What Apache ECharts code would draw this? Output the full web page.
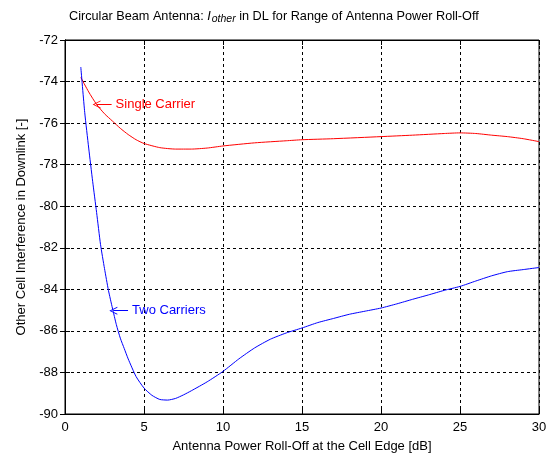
<!DOCTYPE html>
<html>
<head>
<meta charset="utf-8">
<script src="https://cdn.jsdelivr.net/npm/echarts@6/dist/echarts.min.js"></script>
<style>
  html, body { margin: 0; padding: 0; background: #ffffff; }
  #chart { width: 553px; height: 455px; }
</style>
</head>
<body>
<div id="chart"></div>
<script>
// Antenna power roll-off at the cell edge [dB]
const singleX = [1, 1.5, 2, 2.5, 3, 3.5, 4, 4.5, 5, 6, 7, 8, 9, 10, 12, 14, 15, 17, 20, 22, 24, 25, 26, 27, 28, 29, 30];
// Other cell interference, single carrier
const singleY = [-73.8, -74.5, -75.1, -75.55, -75.9, -76.25, -76.55, -76.8, -76.98, -77.18, -77.25, -77.25, -77.2, -77.1, -76.95, -76.85, -76.8, -76.75, -76.65, -76.58, -76.5, -76.47, -76.5, -76.58, -76.65, -76.75, -76.89];

const twoX = [1, 1.25, 1.5, 1.75, 2, 2.25, 2.5, 2.75, 3, 3.25, 3.5, 3.75, 4, 4.5, 5, 5.5, 6, 6.5, 7, 7.5, 8, 9, 10, 11, 12, 13, 14, 15, 16, 17, 18, 19, 20, 21, 22, 23, 24, 25, 26, 27, 28, 29, 30];
// Other cell interference, two carriers
const twoY = [-73.3, -75.5, -77.2, -78.8, -80.3, -81.85, -83.0, -84.05, -84.9, -85.7, -86.35, -86.85, -87.35, -88.2, -88.75, -89.1, -89.3, -89.33, -89.25, -89.08, -88.88, -88.45, -87.95, -87.35, -86.82, -86.4, -86.1, -85.86, -85.6, -85.4, -85.2, -85.05, -84.9, -84.7, -84.48, -84.27, -84.05, -83.86, -83.6, -83.35, -83.15, -83.05, -82.95];

const xTicks = [0, 5, 10, 15, 20, 25, 30];
const yTicks = [-90, -88, -86, -84, -82, -80, -78, -76, -74, -72];

// Curve labels: arrow tip on the curve, text to its right
const singleNote = { text: 'Single Carrier', x: 2.0, y: -75.1, tailX: 2.95 };
const twoNote = { text: 'Two Carriers', x: 3.06, y: -85.03, tailX: 3.99 };

const FONT = 'Liberation Sans, Arial, sans-serif';
const FS = 13;
const chevron = 'path://M5,0 L10,10 L8.8,10 L5,2.2 L1.2,10 L0,10 Z';

function zip(xs, ys) { return xs.map((x, i) => [x, ys[i]]); }

function noteLine(note, color) {
  return {
    silent: true,
    symbol: [chevron, 'none'],
    symbolSize: [8, 8],
    lineStyle: { color: color, width: 1, type: 'solid' },
    label: {
      show: true, position: 'end', distance: 4,
      formatter: note.text, color: color, fontFamily: FONT, fontSize: FS
    },
    emphasis: { disabled: true },
    animation: false,
    data: [[{ coord: [note.x, note.y] }, { coord: [note.tailX, note.y] }]]
  };
}

const chart = echarts.init(document.getElementById('chart'), null, { renderer: 'canvas' });

const gridDash = { color: '#000000', width: 1, type: [3, 3] };
const tick = { show: true, inside: true, length: 5, lineStyle: { color: '#000000' } };
const axisLine = { show: true, lineStyle: { color: '#000000', width: 1 } };

chart.setOption({
  backgroundColor: '#ffffff',
  animation: false,
  title: {
    text: '{n|Circular Beam Antenna: }{i|I}{s|other}{n| in DL for Range of Antenna Power Roll-Off}',
    left: 69, top: 7, padding: 0,
    textStyle: {
      fontWeight: 'normal',
      rich: {
        n: { fontFamily: FONT, fontSize: 12.7, fontWeight: 'normal', color: '#000000' },
        i: { fontFamily: FONT, fontSize: 12.7, fontWeight: 'normal', fontStyle: 'italic', color: '#000000' },
        s: { fontFamily: FONT, fontSize: 10.5, fontWeight: 'normal', fontStyle: 'italic', color: '#000000', padding: [7, 0, 0, 1] }
      }
    }
  },
  grid: {
    left: 65, right: 14, top: 40, bottom: 41, outerBoundsMode: 'none',
    show: true, borderColor: '#000000', borderWidth: 1
  },
  xAxis: [{
    type: 'value', min: 0, max: 30, interval: 5,
    name: 'Antenna Power Roll-Off at the Cell Edge [dB]',
    nameLocation: 'middle', nameGap: 26,
    nameTextStyle: { fontFamily: FONT, fontSize: FS, color: '#000000' },
    axisLine: axisLine, axisTick: tick,
    axisLabel: {
      color: '#000000', fontFamily: FONT, fontSize: FS, margin: 7,
      customValues: xTicks, formatter: v => String(v)
    },
    splitLine: { show: true, lineStyle: gridDash }
  }, {
    type: 'value', min: 0, max: 30, interval: 5, position: 'top',
    axisLine: axisLine, axisTick: tick,
    axisLabel: { show: false }, splitLine: { show: false }
  }],
  yAxis: [{
    type: 'value', min: -90, max: -72, interval: 2,
    name: 'Other Cell Interference in Downlink [-]',
    nameLocation: 'middle', nameGap: 34,
    nameTextStyle: { fontFamily: FONT, fontSize: FS, color: '#000000' },
    axisLine: axisLine, axisTick: tick,
    axisLabel: {
      color: '#000000', fontFamily: FONT, fontSize: FS, margin: 7,
      customValues: yTicks, formatter: v => String(v)
    },
    splitLine: { show: true, lineStyle: gridDash }
  }, {
    type: 'value', min: -90, max: -72, interval: 2, position: 'right',
    axisLine: axisLine, axisTick: tick,
    axisLabel: { show: false }, splitLine: { show: false }
  }],
  series: [{
    name: 'Single Carrier', type: 'line',
    data: zip(singleX, singleY),
    showSymbol: false, smooth: 0.2,
    lineStyle: { color: '#ff0000', width: 1 },
    itemStyle: { color: '#ff0000' },
    markLine: noteLine(singleNote, '#ff0000')
  }, {
    name: 'Two Carriers', type: 'line',
    data: zip(twoX, twoY),
    showSymbol: false, smooth: 0.2,
    lineStyle: { color: '#0000ff', width: 1 },
    itemStyle: { color: '#0000ff' },
    markLine: noteLine(twoNote, '#0000ff')
  }]
});
</script>
</body>
</html>
